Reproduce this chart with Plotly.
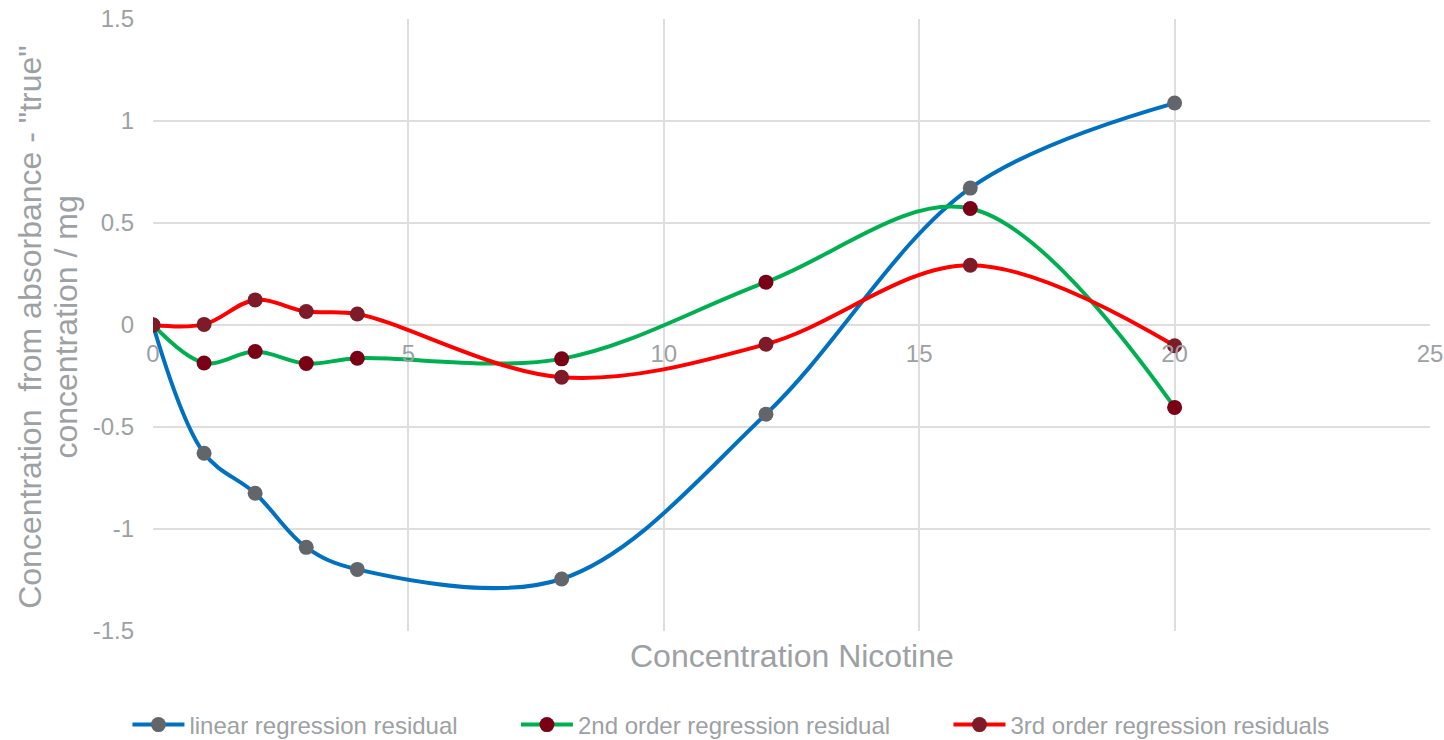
import plotly.graph_objects as go

# Nicotine concentrations (x) and residuals of each calibration fit
concentration = [0, 1, 2, 3, 4, 8, 12, 16, 20]
linear_residual = [0.0, -0.629, -0.825, -1.090, -1.198, -1.245, -0.437, 0.671, 1.088]
second_order_residual = [0.0, -0.186, -0.130, -0.189, -0.163, -0.166, 0.210, 0.571, -0.404]
third_order_residual = [0.0, 0.003, 0.123, 0.066, 0.054, -0.256, -0.094, 0.293, -0.102]

series_names = [
    "linear regression residual",
    "2nd order regression residual",
    "3rd order regression residuals",
]

y_tick_values = [-1.5, -1, -0.5, 0, 0.5, 1, 1.5]
y_tick_labels = ["-1.5", "-1", "-0.5", "0", "0.5", "1", "1.5"]
x_tick_values = [0, 5, 10, 15, 20, 25]
x_tick_labels = ["0", "5", "10", "15", "20", "25"]

TEXT_GREY = "#9DA1A4"
GRID_GREY = "#DEDEDE"
FONT = "Liberation Sans, Arial, sans-serif"
PAD = "\u00a0" * 8  # spacing between legend entries

fig = go.Figure()

styles = [
    (linear_residual, "#0070C0", "#62666A"),
    (second_order_residual, "#00B050", "#7A0016"),
    (third_order_residual, "#FF0000", "#7D1B28"),
]
for (values, line_color, marker_color), name in zip(styles, series_names):
    fig.add_trace(go.Scatter(
        x=concentration,
        y=values,
        name=name + PAD,
        mode="lines+markers",
        line=dict(color=line_color, width=4, shape="spline", smoothing=1.0),
        marker=dict(color=marker_color, size=15),
    ))

fig.update_layout(
    width=1444,
    height=740,
    margin=dict(l=153, r=14, t=19, b=109, autoexpand=False),
    paper_bgcolor="white",
    plot_bgcolor="white",
    font=dict(family=FONT, color=TEXT_GREY, size=24),
    showlegend=True,
    legend=dict(
        orientation="h",
        x=-0.02,
        xanchor="left",
        y=-0.1536,
        yanchor="middle",
        itemwidth=52,
        font=dict(size=24, color=TEXT_GREY),
        bgcolor="rgba(0,0,0,0)",
    ),
    xaxis=dict(
        range=[0, 25],
        tickvals=x_tick_values,
        ticktext=x_tick_labels,
        showgrid=True,
        gridcolor=GRID_GREY,
        gridwidth=2,
        zeroline=False,
        showline=False,
        anchor="free",
        position=0.5,
        ticks="",
        ticklabelstandoff=12,
        tickfont=dict(size=24, color=TEXT_GREY),
    ),
    yaxis=dict(
        range=[-1.5, 1.5],
        tickvals=y_tick_values,
        ticktext=y_tick_labels,
        showgrid=True,
        gridcolor=GRID_GREY,
        gridwidth=2,
        zeroline=True,
        zerolinecolor=GRID_GREY,
        zerolinewidth=2,
        showline=False,
        ticks="",
        ticklabelstandoff=18,
        tickfont=dict(size=24, color=TEXT_GREY),
    ),
)

# Axis titles
fig.add_annotation(
    text="Concentration Nicotine",
    xref="paper", yref="paper", x=0.5, y=-0.041,
    xanchor="center", yanchor="middle", showarrow=False,
    font=dict(size=32, color=TEXT_GREY, family=FONT),
)
fig.add_annotation(
    text="Concentration\u00a0 from absorbance - \"true\"",
    xref="paper", yref="paper", x=-0.0965, y=0.4967,
    xanchor="center", yanchor="middle", textangle=-90, showarrow=False,
    font=dict(size=32, color=TEXT_GREY, family=FONT),
)
fig.add_annotation(
    text="concentration / mg",
    xref="paper", yref="paper", x=-0.0685, y=0.4967,
    xanchor="center", yanchor="middle", textangle=-90, showarrow=False,
    font=dict(size=32, color=TEXT_GREY, family=FONT),
)

fig.write_html("out.html")
